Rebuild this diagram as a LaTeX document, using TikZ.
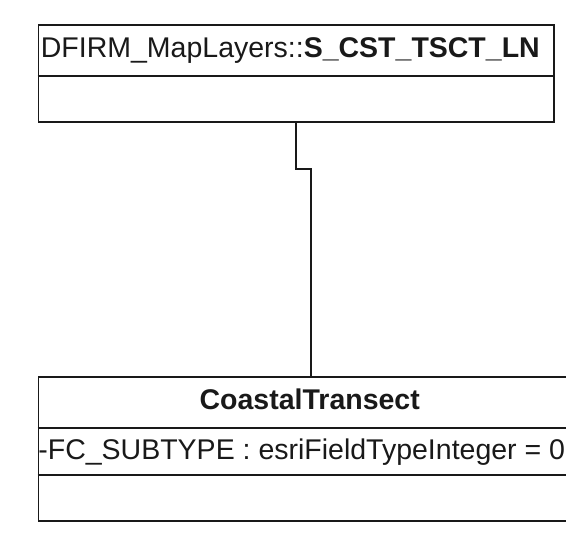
\documentclass[tikz,border=0pt]{standalone}
\usepackage{fontspec}
\setmainfont{Liberation Sans}
\begin{document}
\begin{tikzpicture}[x=1pt,y=-1pt, line width=1.8pt, color={black!90},
  box/.style={draw, rectangle, inner sep=0pt, anchor=north west},
  lbl/.style={font=\fontsize{28.5}{32}\selectfont, inner sep=0pt},
  lblb/.style={font=\fontsize{28.5}{32}\selectfont\bfseries, inner sep=0pt}]
\useasboundingbox (0,0) rectangle (566,533);
\clip (0,0) rectangle (566,533);
% top class
\node[box, minimum width=515.5pt, minimum height=97pt] (top) at (37.5,24) {};
\draw (top.west |- 0,76) -- (top.east |- 0,76);
\node[lbl, anchor=base west] (toptitle) at (40,57.5) {DFIRM\_MapLayers::\textbf{S\_CST\_TSCT\_LN}};
% bottom class
\node[box, minimum width=544.5pt, minimum height=144pt] (bot) at (37.5,376) {};
\draw (bot.west |- 0,428) -- (bot.east |- 0,428);
\draw (bot.west |- 0,475) -- (bot.east |- 0,475);
\node[lblb, anchor=base] (bottitle) at (309.75,409.5) {CoastalTransect};
\node[lbl, anchor=base west] (attr) at (37.5,459) {-FC\_SUBTYPE : esriFieldTypeInteger = 0};
% connector
\draw (top.south) -- (top.south |- 0,169) -| (bot.north);
\end{tikzpicture}
\end{document}
